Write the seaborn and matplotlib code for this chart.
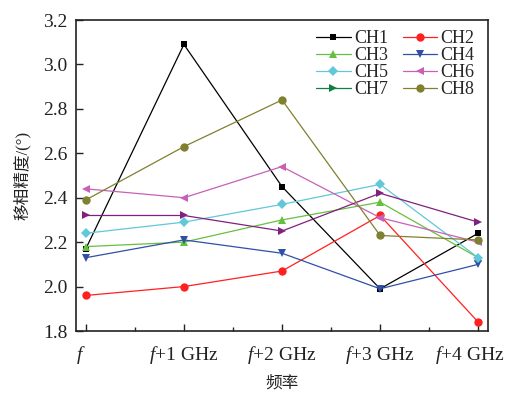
import matplotlib
matplotlib.use("Agg")
import matplotlib.pyplot as plt
import matplotlib.transforms as mtransforms
import seaborn as sns
import pandas as pd
from matplotlib.lines import Line2D
from matplotlib.ticker import MultipleLocator

sns.set_theme(style="ticks")
plt.rcParams['font.family'] = ['Liberation Serif', 'Noto Sans CJK SC']
plt.rcParams['mathtext.fontset'] = 'custom'
plt.rcParams['mathtext.it'] = 'Liberation Serif:italic'
plt.rcParams['mathtext.rm'] = 'Liberation Serif'

x_labels = ["$f$", "$f$+1 GHz", "$f$+2 GHz", "$f$+3 GHz", "$f$+4 GHz"]
x_pos = [0, 1, 2, 3, 4]
ch1 = [2.17, 3.09, 2.45, 1.99, 2.24]
ch2 = [1.96, 2.00, 2.07, 2.32, 1.84]
ch3 = [2.18, 2.20, 2.30, 2.38, 2.13]
ch4 = [2.13, 2.21, 2.15, 1.99, 2.10]
ch5 = [2.24, 2.29, 2.37, 2.46, 2.13]
ch6 = [2.44, 2.40, 2.54, 2.31, 2.20]
ch7 = [2.32, 2.32, 2.25, 2.42, 2.29]
ch8 = [2.39, 2.63, 2.84, 2.23, 2.21]
names = ["CH1", "CH2", "CH3", "CH4", "CH5", "CH6", "CH7", "CH8"]
series = [ch1, ch2, ch3, ch4, ch5, ch6, ch7, ch8]

colors = ["#000000", "#FF2020", "#66C040", "#3050A8", "#60C8D8", "#C860B8", "#802080", "#808030"]
legend_colors = ["#000000", "#FF2020", "#66C040", "#3050A8", "#60C8D8", "#C860B8", "#108040", "#808030"]
markers = ["s", "o", "^", "v", "D", "<", ">", "o"]
msizes = [5, 6, 6, 6, 5, 6, 6, 6]

fig = plt.figure(figsize=(5.05, 3.93), dpi=100)
ax = fig.add_axes([76/505, 62/393, 412/505, 311/393])

for name, vals, c, m, ms in zip(names, series, colors, markers, msizes):
    df = pd.DataFrame({"x": x_pos, "y": vals})
    sns.lineplot(data=df, x="x", y="y", ax=ax, color=c, marker=m, markersize=ms,
                 markeredgewidth=0, linewidth=0.9, legend=False)

ax.set_xlim(-0.1, 4.1)
ax.set_ylim(1.8, 3.2)
ax.set_xticks(x_pos)
ax.set_xticklabels(x_labels)
ax.xaxis.set_minor_locator(MultipleLocator(0.5))
ax.yaxis.set_major_locator(MultipleLocator(0.2))
ax.yaxis.set_major_formatter(matplotlib.ticker.FormatStrFormatter('%.1f'))
ax.tick_params(axis='both', which='major', direction='in', length=5, width=1, labelsize=14, colors='#222222')
ax.tick_params(axis='x', which='minor', direction='in', length=3, width=1, bottom=True)
ax.tick_params(axis='x', which='major', pad=9)
ax.tick_params(axis='y', which='major', pad=6)
for s in ax.spines.values():
    s.set_linewidth(1.2)
    s.set_color('#222222')

# nudge first and last x tick labels left, as in the reference
xt = ax.get_xticklabels()
xt[0].set_transform(xt[0].get_transform() + mtransforms.ScaledTranslation(-5/100, 0, fig.dpi_scale_trans))
xt[-1].set_transform(xt[-1].get_transform() + mtransforms.ScaledTranslation(-9/100, 0, fig.dpi_scale_trans))

ax.set_xlabel("频率", fontsize=12, color='#222222', labelpad=7)
ax.set_ylabel("移相精度/(°)", fontsize=12, color='#222222', labelpad=9)

order = [0, 2, 4, 6, 1, 3, 5, 7]
handles = [Line2D([0], [0], color=legend_colors[i], marker=markers[i], markersize=msizes[i],
                  markeredgewidth=0, linewidth=0.9) for i in order]
labels = [names[i] for i in order]
ax.legend(handles, labels, ncol=2, loc='upper right', frameon=False, fontsize=13,
          handlelength=1.9, handletextpad=0.2, columnspacing=0.8, labelspacing=0.0,
          borderaxespad=0.0, bbox_to_anchor=(0.985, 0.99))

fig.savefig("out.png", dpi=100)
